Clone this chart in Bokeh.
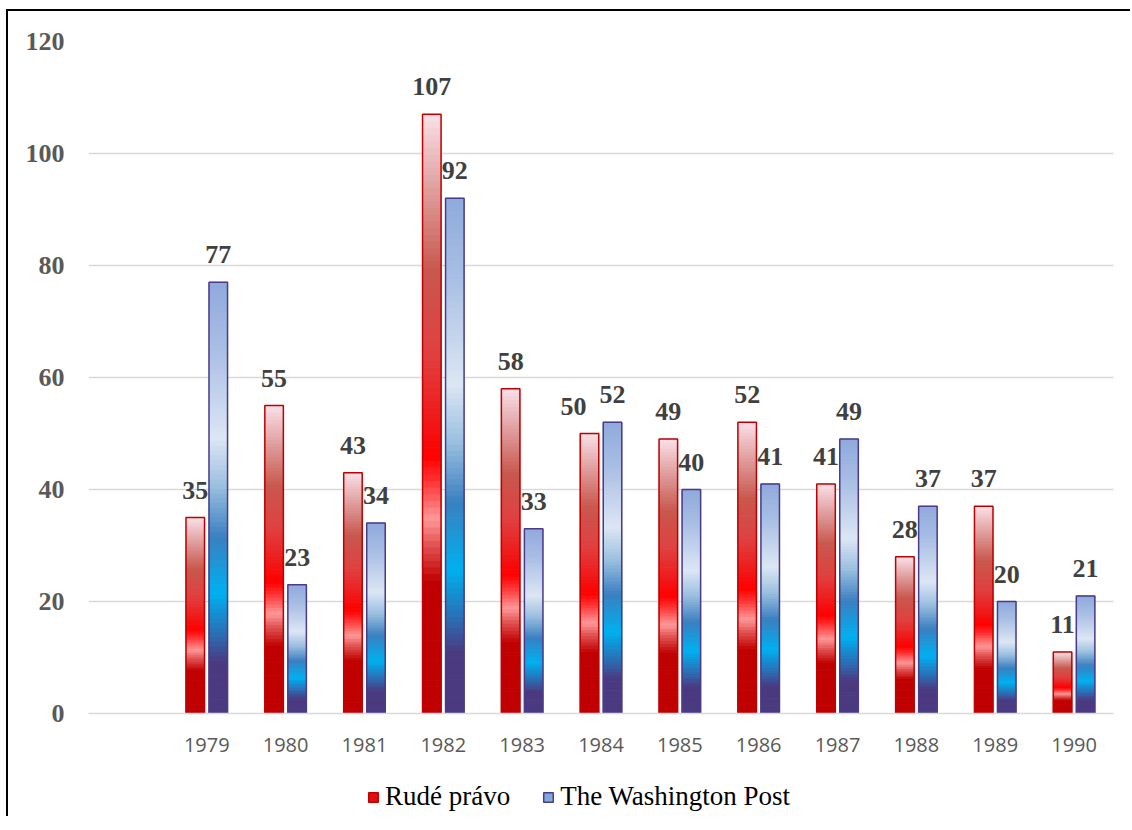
import numpy as np
from bokeh.plotting import figure
from bokeh.layouts import column
from bokeh.models import (FixedTicker, Legend, LegendItem, ColumnDataSource, Range1d)
from bokeh.core.properties import value
from bokeh.embed import file_html
from bokeh.resources import INLINE

# ---------------- data ----------------
years = [1979, 1980, 1981, 1982, 1983, 1984, 1985, 1986, 1987, 1988, 1989, 1990]
year_labels = ["1979", "1980", "1981", "1982", "1983", "1984", "1985", "1986",
               "1987", "1988", "1989", "1990"]
rude_pravo = [35, 55, 43, 107, 58, 50, 49, 52, 41, 28, 37, 11]
washington_post = [77, 23, 34, 92, 33, 52, 40, 41, 49, 37, 20, 21]
series_names = ["Rudé právo", "The Washington Post"]
y_ticks = [0, 20, 40, 60, 80, 100, 120]

# ---------------- styles ----------------
red_stops = [(0.00, "#C00000"), (0.22, "#C00000"), (0.28, "#E05050"), (0.325, "#FF9898"),
             (0.39, "#FF3030"), (0.43, "#FF0000"), (0.49, "#F01818"), (0.60, "#E04040"),
             (0.74, "#C8584E"), (0.88, "#E0A0A0"), (1.00, "#FAE0E8")]
blue_stops = [(0.00, "#4B3A80"), (0.12, "#4B3A80"), (0.18, "#2E6AB0"), (0.28, "#00B0F0"),
              (0.41, "#3A80C0"), (0.53, "#9CC0E0"), (0.64, "#DCE6F4"), (0.85, "#A8BEE4"),
              (1.00, "#8FAADC")]
label_dx_red = [0, 0, 0, 0, 0, -16, 0, 0, 0, 0, 0, 0]   # px shifts of data labels
label_dx_blue = [0] * 12
bar_off = 0.146
bar_w = 0.235
N_SEG = 90
W = 1124


def hex2rgb(h):
    h = h.lstrip("#")
    return np.array([int(h[i:i + 2], 16) for i in (0, 2, 4)], dtype=float)


def grad_color(stops, f):
    for (f0, c0), (f1, c1) in zip(stops[:-1], stops[1:]):
        if f0 <= f <= f1:
            t = 0 if f1 == f0 else (f - f0) / (f1 - f0)
            c = hex2rgb(c0) * (1 - t) + hex2rgb(c1) * t
            return "#%02x%02x%02x" % tuple(int(round(v)) for v in c)
    return stops[-1][1]


def gradient_source(xs, vals, stops):
    L, R, B, T, C = [], [], [], [], []
    fr = np.linspace(0, 1, N_SEG + 1)
    for x, v in zip(xs, vals):
        for i in range(N_SEG):
            L.append(x - bar_w / 2)
            R.append(x + bar_w / 2)
            B.append(v * fr[i])
            T.append(v * fr[i + 1])
            C.append(grad_color(stops, (fr[i] + fr[i + 1]) / 2))
    return ColumnDataSource(dict(left=L, right=R, bottom=B, top=T, color=C))


p = figure(width=W, height=764, output_backend="svg", toolbar_location=None,
           x_range=Range1d(1977.5, 1990.5), y_range=Range1d(0, 120),
           min_border_left=80, min_border_right=W - 1105, min_border_top=30,
           min_border_bottom=62)
p.outline_line_color = None

x_red = [y - bar_off for y in years]
x_blue = [y + bar_off for y in years]

p.quad(left="left", right="right", bottom="bottom", top="top", fill_color="color",
       line_color="color", line_width=1, source=gradient_source(x_red, rude_pravo, red_stops))
p.quad(left="left", right="right", bottom="bottom", top="top", fill_color="color",
       line_color="color", line_width=1,
       source=gradient_source(x_blue, washington_post, blue_stops))

# outlines
p.quad(left=[x - bar_w / 2 for x in x_red], right=[x + bar_w / 2 for x in x_red],
       bottom=0, top=rude_pravo, fill_color=None, line_color="#C00000", line_width=1.5)
p.quad(left=[x - bar_w / 2 for x in x_blue], right=[x + bar_w / 2 for x in x_blue],
       bottom=0, top=washington_post, fill_color=None, line_color="#4B3A8A", line_width=1.5)

# data labels
lbl_font = value("Liberation Serif")
p.text(x=x_red, y=rude_pravo, text=[str(v) for v in rude_pravo], x_offset=label_dx_red,
       y_offset=-19, text_align="center", text_baseline="bottom", text_font=lbl_font,
       text_font_size="26px", text_font_style="bold", text_color="#404040")
p.text(x=x_blue, y=washington_post, text=[str(v) for v in washington_post],
       x_offset=label_dx_blue, y_offset=-19, text_align="center", text_baseline="bottom",
       text_font=lbl_font, text_font_size="26px", text_font_style="bold", text_color="#404040")

# axes
p.yaxis.ticker = FixedTicker(ticks=y_ticks)
p.yaxis.axis_line_color = None
p.yaxis.major_tick_line_color = None
p.yaxis.minor_tick_line_color = None
p.yaxis.major_label_text_font = "Liberation Serif"
p.yaxis.major_label_text_font_style = "bold"
p.yaxis.major_label_text_font_size = "26px"
p.yaxis.major_label_text_color = "#595959"
p.yaxis.major_label_standoff = 18

p.xaxis.ticker = FixedTicker(ticks=years)
p.xaxis.major_label_overrides = {y: s for y, s in zip(years, year_labels)}
p.xaxis.axis_line_color = "#D9D9D9"
p.xaxis.axis_line_width = 1.5
p.xaxis.major_tick_line_color = None
p.xaxis.minor_tick_line_color = None
p.xaxis.major_label_text_font = "Open Sans"
p.xaxis.major_label_text_font_size = "20px"
p.xaxis.major_label_text_color = "#595959"
p.xaxis.major_label_standoff = 18

p.xgrid.grid_line_color = None
p.ygrid.grid_line_color = "#D9D9D9"
p.ygrid.grid_line_width = 1.5

# legend strip (separate small figure below the chart)
pl = figure(width=W, height=43, output_backend="svg", toolbar_location=None,
            x_axis_type=None, y_axis_type=None, x_range=Range1d(0, 1), y_range=Range1d(0, 1),
            min_border=0)
pl.outline_line_color = None
pl.xgrid.visible = False
pl.ygrid.visible = False
# legend proxy glyphs, placed outside the visible range
r_leg_red = pl.quad(left=[5], right=[6], bottom=[5], top=[6], fill_color="#E01010",
                    line_color="#C00000", line_width=1.5)
r_leg_blue = pl.quad(left=[5], right=[6], bottom=[5], top=[6], fill_color="#7FA8DC",
                     line_color="#4B3A8A", line_width=1.5)
legend = Legend(items=[LegendItem(label=series_names[0], renderers=[r_leg_red]),
                       LegendItem(label=series_names[1], renderers=[r_leg_blue])],
                orientation="horizontal", location=(279, 6))
legend.label_text_font = "Liberation Serif"
legend.label_text_font_size = "27px"
legend.label_text_color = "#000000"
legend.glyph_width = 12
legend.glyph_height = 12
legend.spacing = 32
legend.label_standoff = 6
legend.border_line_color = None
legend.background_fill_alpha = 0
legend.padding = 0
legend.margin = 0
pl.add_layout(legend, "center")

layout = column(p, pl, spacing=0)
layout.styles = {"border": "none", "outline": "none",
                 "box-shadow": "-2px -2px 0 0 #000000",
                 "margin-left": "8px", "margin-top": "11px"}

open("out.html", "w").write(file_html(layout, INLINE))
